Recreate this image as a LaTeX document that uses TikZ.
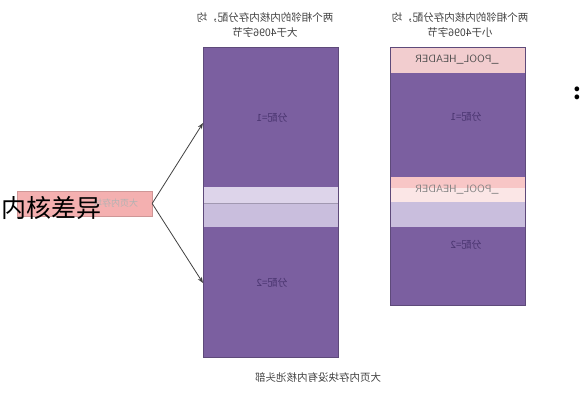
\documentclass[tikz,border=0pt]{standalone}
\usepackage{fontspec}
\usepackage{graphicx}
\newfontfamily\cjk{Noto Sans CJK SC}
\usepackage{tikz}
\usetikzlibrary{arrows.meta,positioning,calc}
\definecolor{pg-purple}{HTML}{7B5FA0}
\definecolor{pg-edge}{HTML}{5E4A7A}
\definecolor{pg-band}{HTML}{C9BEDD}
\definecolor{pg-band2}{HTML}{DDD4EA}
\definecolor{pg-pink}{HTML}{F2CDCF}
\definecolor{pg-pink2}{HTML}{F8C6C6}
\definecolor{pg-pink3}{HTML}{FBE6E6}
\definecolor{pg-red}{HTML}{F4B0B0}
\definecolor{pg-ink}{HTML}{4A3570}
\tikzset{
  blk/.style={draw=pg-edge,line width=0.6pt},
  lbl/.style={font=\cjk\fontsize{10.5}{15}\selectfont,text=black!75,align=center},
  inlbl/.style={font=\cjk\fontsize{10}{12}\selectfont,text=pg-ink},
}

\begin{document}
\begin{tikzpicture}[x=1pt,y=-1pt]
      \useasboundingbox (0,0) rectangle (580,400);
      % left column: two big allocations
      \fill[pg-purple] (203,47) rectangle (338,187);
      \fill[pg-band2] (203,187) rectangle (338,203);
      \fill[pg-band] (203,203) rectangle (338,227);
      \fill[pg-purple] (203,227) rectangle (338,357);
      \draw[pg-band!80!black,line width=0.3pt] (203,203) -- (338,203);
      \draw[blk] (203,47) rectangle (338,357);
      % right column: two small allocations with pool headers
      \fill[pg-pink,draw=pg-edge] (390,47) rectangle (525,73);
      \fill[pg-purple] (390,73) rectangle (525,177);
      \fill[pg-pink2] (390,177) rectangle (525,188);
      \fill[pg-pink3] (390,188) rectangle (525,202);
      \fill[pg-band] (390,202) rectangle (525,227);
      \fill[pg-purple] (390,227) rectangle (525,305);
      \draw[blk] (390,47) rectangle (525,305);
      \node[inlbl,font=\fontsize{10.5}{12}\selectfont\sffamily,text=black!70] (hdrA) at (457,60) {\reflectbox{\_POOL\_HEADER}};
      \node[inlbl,font=\fontsize{10.5}{12}\selectfont\sffamily,text=black!50] (hdrB) at (457,190) {\reflectbox{\_POOL\_HEADER}};
      \node[inlbl] (allocA) at (272,118) {\reflectbox{分配=1}};
      \node[inlbl] (allocB) at (272,283) {\reflectbox{分配=2}};
      \node[inlbl] (allocC) at (466,117) {\reflectbox{分配=1}};
      \node[inlbl] (allocD) at (466,245) {\reflectbox{分配=2}};
      % captions
      \node[lbl] (capL) at (265,26) {\reflectbox{\begin{tabular}{c}两个相邻的内核内存分配，均\\大于4096字节\end{tabular}}};
      \node[lbl] (capR) at (460,26) {\reflectbox{\begin{tabular}{c}两个相邻的内核内存分配，均\\小于4096字节\end{tabular}}};
      \node[lbl] (capB) at (318,377) {\reflectbox{大页内存块没有内核池头部}};
      % large page block and arrows
      \node[fill=pg-red,draw=pg-red!85!black,line width=0.3pt,minimum width=135pt,minimum height=25pt,inner sep=0pt,
            font=\cjk\fontsize{9}{11}\selectfont,text=black!30] (big) at (84.5,203.5) {\hspace{62pt}\reflectbox{大页内存块}};
      \coordinate (tipA) at (203,123);
      \coordinate (tipB) at (203,283);
      \draw[-{Stealth[length=6pt]},black!75,line width=0.8pt] (big.east) -- (tipA);
      \draw[-{Stealth[length=6pt]},black!75,line width=0.8pt] (big.east) -- (tipB);
      \node[font=\cjk\fontsize{25}{28}\selectfont,anchor=west,inner sep=0pt] (diff) at (1,208) {内核差异};
      \node[font=\cjk\bfseries\fontsize{22}{24}\selectfont,anchor=east,inner sep=0pt] (colon) at (581,93) {:};
\end{tikzpicture}
\end{document}
